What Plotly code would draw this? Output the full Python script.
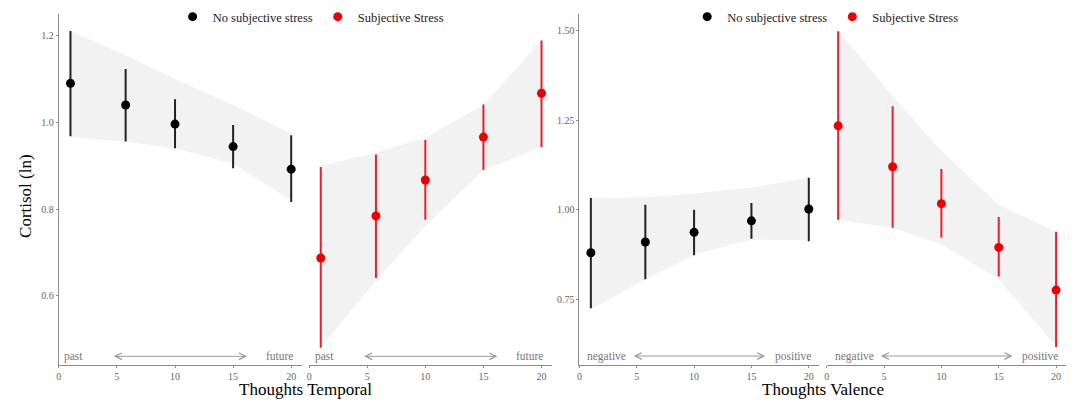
import plotly.graph_objects as go

W, H = 1073, 401

# x positions of the five bins (shared by all facets)
x_bins = [1, 5.75, 10, 15, 20]

# Thoughts Temporal, no subjective stress
temporal_calm = [1.090, 1.040, 0.996, 0.944, 0.892]
temporal_calm_lo = [0.968, 0.956, 0.940, 0.894, 0.816]
temporal_calm_hi = [1.211, 1.123, 1.053, 0.994, 0.970]
temporal_calm_band_lo = [0.966, 0.955, 0.940, 0.905, 0.820]
temporal_calm_band_hi = [1.210, 1.155, 1.100, 1.040, 0.975]

# Thoughts Temporal, subjective stress
temporal_stress = [0.687, 0.784, 0.867, 0.966, 1.067]
temporal_stress_lo = [0.480, 0.641, 0.775, 0.890, 0.943]
temporal_stress_hi = [0.897, 0.926, 0.959, 1.041, 1.189]
temporal_stress_band_lo = [0.480, 0.635, 0.760, 0.890, 0.943]
temporal_stress_band_hi = [0.900, 0.930, 0.965, 1.040, 1.190]

# Thoughts Valence, no subjective stress
valence_calm = [0.880, 0.910, 0.937, 0.969, 1.002]
valence_calm_lo = [0.725, 0.806, 0.873, 0.919, 0.912]
valence_calm_hi = [1.033, 1.014, 1.000, 1.019, 1.089]
valence_calm_band_lo = [0.722, 0.806, 0.875, 0.917, 0.915]
valence_calm_band_hi = [1.033, 1.035, 1.045, 1.062, 1.089]

# Thoughts Valence, subjective stress
valence_stress = [1.234, 1.120, 1.017, 0.895, 0.776]
valence_stress_lo = [0.972, 0.950, 0.922, 0.814, 0.617]
valence_stress_hi = [1.498, 1.289, 1.114, 0.980, 0.939]
valence_stress_band_lo = [0.972, 0.950, 0.903, 0.806, 0.620]
valence_stress_band_hi = [1.500, 1.317, 1.164, 1.014, 0.939]

x_ticks = [0, 5, 10, 15, 20]
temporal_yticks = [0.6, 0.8, 1.0, 1.2]
valence_yticks = [0.75, 1.00, 1.25, 1.50]
group_names = ["No subjective stress", "Subjective Stress"]

FONT = "Liberation Serif"
GREY = "#8a8a8a"
BLACK = "#000000"
RED = "#ee0000"


def px_x(p):
    return p / W


def px_y(p):
    return 1 - p / H


fig = go.Figure()

panels = [
    # xaxis, yaxis, mean, lo, hi, band_lo, band_hi, colour, bar colour, name, legend
    ("x", "y", temporal_calm, temporal_calm_lo, temporal_calm_hi,
     temporal_calm_band_lo, temporal_calm_band_hi, BLACK, "#222222", group_names[0], "legend"),
    ("x2", "y", temporal_stress, temporal_stress_lo, temporal_stress_hi,
     temporal_stress_band_lo, temporal_stress_band_hi, RED, "#e8202a", group_names[1], "legend"),
    ("x3", "y2", valence_calm, valence_calm_lo, valence_calm_hi,
     valence_calm_band_lo, valence_calm_band_hi, BLACK, "#222222", group_names[0], "legend2"),
    ("x4", "y2", valence_stress, valence_stress_lo, valence_stress_hi,
     valence_stress_band_lo, valence_stress_band_hi, RED, "#e8202a", group_names[1], "legend2"),
]

for xa, ya, mean, lo, hi, blo, bhi, col, barcol, name, leg in panels:
    # shaded band
    fig.add_trace(go.Scatter(
        x=x_bins + x_bins[::-1], y=bhi + blo[::-1],
        xaxis=xa, yaxis=ya, fill="toself", mode="lines",
        line=dict(width=0), fillcolor="#f2f2f2",
        hoverinfo="skip", showlegend=False,
    ))
    fig.add_trace(go.Scatter(
        x=x_bins, y=mean, xaxis=xa, yaxis=ya, mode="markers",
        marker=dict(size=9, color=col),
        error_y=dict(type="data", symmetric=False,
                     array=[h - m for h, m in zip(hi, mean)],
                     arrayminus=[m - l for m, l in zip(mean, lo)],
                     color=barcol, thickness=2, width=0),
        name=name, legend=leg,
    ))

# facet domains in pixels
x_dom = {"xaxis": (56, 299.5), "xaxis2": (307, 550.5),
         "xaxis3": (578, 818.4), "xaxis4": (826, 1066.4)}
y_dom = [px_y(365), px_y(14)]

axis_common = dict(
    showline=True, linecolor=GREY, linewidth=1, ticks="outside", ticklen=2,
    tickcolor=GREY, tickfont=dict(family=FONT, size=10, color="#666666"),
    showgrid=False, zeroline=False,
)

anchors = {"xaxis": "y", "xaxis2": "y", "xaxis3": "y2", "xaxis4": "y2"}
for ax, (a, b) in x_dom.items():
    fig.update_layout({ax: dict(
        domain=[px_x(a), px_x(b)], range=[0, 20.9], anchor=anchors[ax],
        tickvals=x_ticks, **axis_common)})

fig.update_layout(
    yaxis=dict(domain=y_dom, range=[0.44, 1.25], anchor="x",
               tickvals=temporal_yticks, tickformat=".1f", **axis_common),
    yaxis2=dict(domain=y_dom, range=[0.567, 1.546], anchor="x3",
                tickvals=valence_yticks, tickformat=".2f", **axis_common),
)

# direction labels and arrows along the bottom of each facet
direction_labels = [
    ("x", "y", "past", "future", 0.46),
    ("x2", "y", "past", "future", 0.46),
    ("x3", "y2", "negative", "positive", 0.592),
    ("x4", "y2", "negative", "positive", 0.592),
]
for xa, ya, left, right, yv in direction_labels:
    lx = 1.3 if left == "past" else 2.4
    rx = 19.0 if right == "future" else 18.6
    for txt, xv in ((left, lx), (right, rx)):
        fig.add_annotation(x=xv, y=yv, xref=xa, yref=ya, text=txt,
                           showarrow=False,
                           font=dict(family=FONT, size=11.5, color="#777777"))
    fig.add_annotation(x=16.2, y=yv, ax=4.6, ay=yv, xref=xa, yref=ya,
                       axref=xa, ayref=ya, text="", showarrow=True,
                       arrowside="end+start", arrowhead=5, arrowsize=1.3,
                       arrowwidth=1, arrowcolor="#9a9a9a")

# axis titles
title_font = dict(family=FONT, size=17, color=BLACK)
fig.add_annotation(x=px_x(303), y=px_y(389), xref="paper", yref="paper",
                   xanchor="center", yanchor="middle",
                   text="Thoughts Temporal", showarrow=False, font=title_font)
fig.add_annotation(x=px_x(822), y=px_y(389), xref="paper", yref="paper",
                   xanchor="center", yanchor="middle",
                   text="Thoughts Valence", showarrow=False, font=title_font)
fig.add_annotation(x=px_x(22), y=px_y(196), xref="paper", yref="paper",
                   xanchor="center", yanchor="middle",
                   text="Cortisol (ln)", showarrow=False, textangle=-90,
                   font=title_font)

legend_style = dict(orientation="h", xanchor="center", yanchor="middle",
                    y=px_y(17), bgcolor="rgba(0,0,0,0)",
                    font=dict(family=FONT, size=12.5, color="#222222"),
                    itemwidth=30, tracegroupgap=0)

fig.update_layout(
    width=W, height=H,
    margin=dict(l=0, r=0, t=0, b=0),
    paper_bgcolor="white", plot_bgcolor="white",
    font=dict(family=FONT),
    legend=dict(x=px_x(309), **legend_style),
    legend2=dict(x=px_x(825), **legend_style),
)

# drop the browser's default page margin so the figure fills the window
fig.write_html("out.html", config={"displayModeBar": False},
               post_script="document.body.style.margin='0';"
                           "document.body.style.overflow='hidden';")
